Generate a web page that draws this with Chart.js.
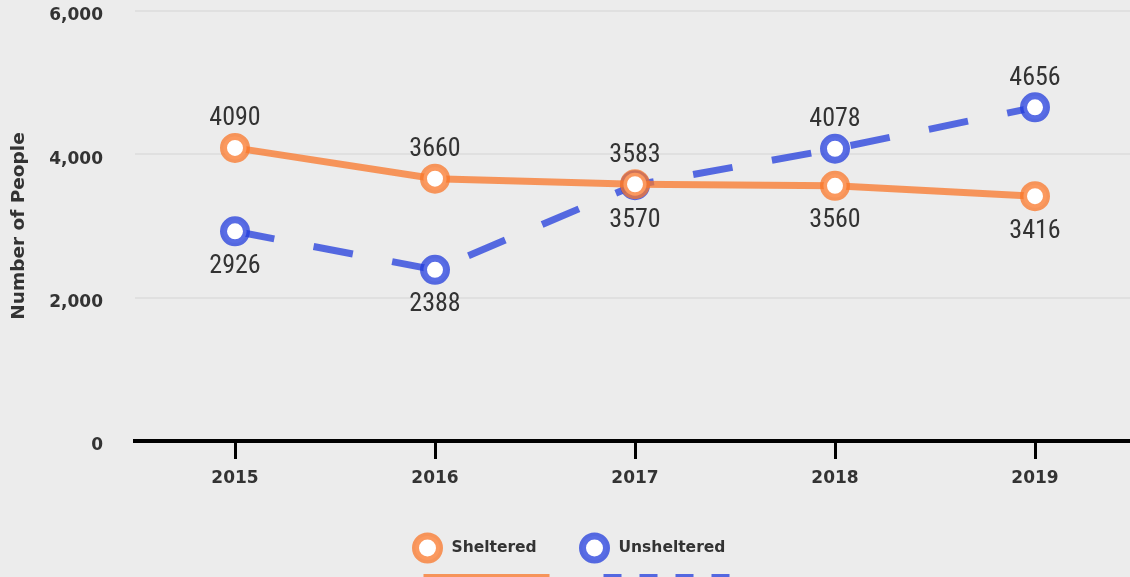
<!DOCTYPE html>
<html>
<head>
<meta charset="utf-8">
<script src="https://cdn.jsdelivr.net/npm/chart.js@4"></script>
<style>
  html, body { margin: 0; padding: 0; background: #ececec; overflow: hidden; }
  #wrap { width: 1135px; height: 577px; }
</style>
</head>
<body>
<div id="wrap"><canvas id="homeless"></canvas></div>
<script>
const years = ['2015', '2016', '2017', '2018', '2019'];
const sheltered = [4090, 3660, 3583, 3560, 3416];
const unsheltered = [2926, 2388, 3570, 4078, 4656];
const yTicks = [0, 2000, 4000, 6000];

const ORANGE = 'rgba(250,119,41,0.75)';
const BLUE = 'rgba(33,60,220,0.75)';
const TEXT = '#333333';
const BOLD_FAMILY = '"DejaVu Sans", Lato, sans-serif';
const AXIS_FONT = { family: BOLD_FAMILY, size: 17, weight: 'bold' };

// value labels: the higher series of each year gets its number above the point
const valueLabels = {
    id: 'valueLabels',
    afterDatasetsDraw(chart) {
        const ctx = chart.ctx;
        ctx.save();
        ctx.font = '26px "Liberation Sans Narrow", "Roboto Condensed", Roboto, sans-serif';
        ctx.fillStyle = TEXT;
        ctx.textAlign = 'center';
        ctx.textBaseline = 'middle';
        chart.data.datasets.forEach((ds, i) => {
            const other = chart.data.datasets[1 - i].data;
            chart.getDatasetMeta(i).data.forEach((pt, j) => {
                const above = ds.data[j] >= other[j];
                ctx.fillText(String(ds.data[j]), pt.x, above ? pt.y - 29 : pt.y + 35);
            });
        });
        ctx.restore();
    }
};

// legend: ring marker + name, with a line sample underneath
const ringLegend = {
    id: 'ringLegend',
    afterDraw(chart) {
        const ctx = chart.ctx;
        const cx = chart.width / 2;
        const items = [
            { label: 'Sheltered', color: ORANGE, dash: [], x: cx - 140, lineX: cx - 144 },
            { label: 'Unsheltered', color: BLUE, dash: [18, 18], x: cx + 27, lineX: cx + 36 }
        ];
        ctx.save();
        ctx.font = 'bold 15.5px ' + BOLD_FAMILY;
        ctx.textBaseline = 'middle';
        items.forEach(it => {
            ctx.beginPath();
            ctx.arc(it.x, 548, 12, 0, Math.PI * 2);
            ctx.fillStyle = '#ffffff';
            ctx.fill();
            ctx.lineWidth = 7;
            ctx.strokeStyle = it.color;
            ctx.stroke();
            ctx.fillStyle = TEXT;
            ctx.fillText(it.label, it.x + 24, 548);
            ctx.beginPath();
            ctx.setLineDash(it.dash);
            ctx.lineWidth = 4;
            ctx.moveTo(it.lineX, 576);
            ctx.lineTo(it.lineX + 126, 576);
            ctx.stroke();
            ctx.setLineDash([]);
        });
        ctx.restore();
    }
};

const pointStyle = color => ({
    borderColor: color,
    backgroundColor: color,
    pointBackgroundColor: '#ffffff',
    pointBorderColor: color,
    pointRadius: 11.5,
    pointBorderWidth: 7,
    pointHoverRadius: 11.5,
    borderWidth: 7,
    tension: 0,
    fill: false
});

new Chart(document.getElementById('homeless'), {
    type: 'line',
    data: {
        labels: years,
        datasets: [
            Object.assign({ label: 'Sheltered', data: sheltered }, pointStyle(ORANGE)),
            Object.assign({ label: 'Unsheltered', data: unsheltered, borderDash: [40, 40] }, pointStyle(BLUE))
        ]
    },
    options: {
        responsive: true,
        maintainAspectRatio: false,
        animation: false,
        layout: { autoPadding: false, padding: { top: 11, right: 0, bottom: 0, left: 0 } },
        plugins: {
            legend: { display: false },
            tooltip: { enabled: false }
        },
        scales: {
            x: {
                offset: true,
                grid: {
                    drawOnChartArea: false,
                    drawTicks: true,
                    tickLength: 18,
                    tickWidth: 3,
                    tickColor: '#000000'
                },
                border: { display: true, color: '#000000', width: 4 },
                ticks: { color: TEXT, font: AXIS_FONT, padding: 9 },
                afterFit(scale) {
                    scale.height = 136;
                    scale.paddingTop = 0;
                    scale.paddingBottom = 0;
                }
            },
            y: {
                min: 0,
                max: 6000,
                afterBuildTicks(scale) { scale.ticks = yTicks.map(v => ({ value: v })); },
                afterFit(scale) {
                    scale.width = 135;
                    scale.paddingTop = 0;
                    scale.paddingBottom = 0;
                },
                grid: { color: '#e0e0e0', lineWidth: 2, drawTicks: false },
                border: { display: false },
                ticks: {
                    color: TEXT,
                    font: AXIS_FONT,
                    padding: 32,
                    labelOffset: 5,
                    callback: v => v.toLocaleString('en-US')
                },
                title: {
                    display: true,
                    text: 'Number of People',
                    color: TEXT,
                    font: { family: BOLD_FAMILY, size: 18.5, weight: 'bold' },
                    padding: { top: 8, bottom: 4 }
                }
            }
        }
    },
    plugins: [valueLabels, ringLegend]
});
</script>
</body>
</html>
